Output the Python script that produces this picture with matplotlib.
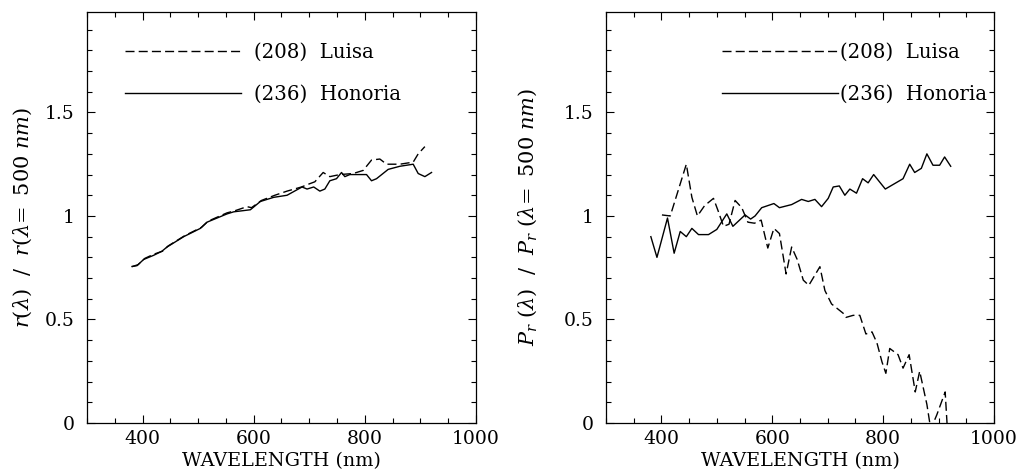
import matplotlib
matplotlib.use('Agg')
import matplotlib.pyplot as plt
from matplotlib.ticker import MultipleLocator, FuncFormatter

# relative reflectance r(lambda) / r(500 nm)
refl_wl_honoria = [381, 390, 402, 420, 435, 444, 474, 504, 516, 552, 564, 594, 612, 636, 660, 687,
                   696, 708, 719, 728, 737, 749, 758, 764, 773, 803, 812, 821, 842, 863, 887, 896,
                   908, 920]
refl_honoria = [0.756, 0.76, 0.79, 0.81, 0.83, 0.85, 0.90, 0.94, 0.97, 1.01, 1.02, 1.03, 1.07, 1.09,
                1.10, 1.14, 1.13, 1.14, 1.12, 1.13, 1.17, 1.18, 1.21, 1.19, 1.20, 1.20, 1.17, 1.18,
                1.225, 1.24, 1.25, 1.205, 1.19, 1.21]
refl_wl_luisa = [381, 392, 404, 420, 436, 446, 476, 506, 518, 552, 566, 588, 596, 614, 638, 660, 686,
                 700, 710, 725, 737, 755, 779, 797, 812, 827, 839, 863, 887, 896, 908]
refl_luisa = [0.755, 0.765, 0.795, 0.815, 0.83, 0.855, 0.905, 0.945, 0.975, 1.015, 1.025, 1.045,
              1.04, 1.075, 1.10, 1.12, 1.14, 1.155, 1.165, 1.21, 1.19, 1.20, 1.205, 1.22, 1.27,
              1.275, 1.25, 1.25, 1.26, 1.30, 1.335]

# relative polarization Pr(lambda) / Pr(500 nm)
pol_wl_honoria = [381, 392, 411, 423, 434, 445, 455, 467, 485, 500, 518, 529, 551, 561, 569, 581,
                  603, 613, 635, 653, 665, 677, 689, 701, 710, 721, 731, 740, 752, 763, 773, 783,
                  804, 836, 848, 857, 869, 879, 890, 902, 911, 922]
pol_honoria = [0.90, 0.80, 0.99, 0.82, 0.925, 0.90, 0.94, 0.91, 0.91, 0.935, 1.01, 0.95, 1.005,
               0.985, 1.00, 1.04, 1.06, 1.04, 1.055, 1.08, 1.07, 1.08, 1.045, 1.085, 1.14, 1.145,
               1.10, 1.13, 1.11, 1.18, 1.16, 1.20, 1.13, 1.18, 1.25, 1.21, 1.23, 1.30, 1.245,
               1.245, 1.285, 1.24]
pol_wl_luisa = [401, 416, 445, 455, 465, 478, 494, 503, 512, 522, 533, 545, 556, 568, 580, 592, 603,
                613, 625, 635, 645, 656, 666, 686, 695, 707, 728, 733, 746, 758, 769, 780, 789,
                798, 805, 812, 827, 836, 847, 858, 866, 879, 886, 897, 912, 916]
pol_luisa = [1.005, 1.00, 1.25, 1.09, 1.00, 1.05, 1.085, 1.02, 0.95, 0.96, 1.075, 1.04, 0.97,
             0.965, 0.98, 0.845, 0.94, 0.915, 0.72, 0.85, 0.79, 0.69, 0.665, 0.755, 0.64, 0.575,
             0.53, 0.51, 0.52, 0.52, 0.43, 0.44, 0.386, 0.295, 0.24, 0.36, 0.33, 0.265, 0.33,
             0.15, 0.25, 0.09, -0.03, 0.04, 0.15, -0.03]

names = ['(208)  Luisa', '(236)  Honoria']

plt.rcParams['font.family'] = 'DejaVu Serif'
plt.rcParams['mathtext.fontset'] = 'dejavuserif'
plt.rcParams['font.size'] = 13.5

fig = plt.figure(figsize=(10.21, 4.74), dpi=100)
ax1 = fig.add_axes([0.0852, 0.1076, 0.381, 0.867])
ax2 = fig.add_axes([0.5935, 0.1076, 0.380, 0.867])

dash = (0, (6.5, 3))
ax1.plot(refl_wl_luisa, refl_luisa, color='black', lw=1.0, linestyle=dash, label=names[0])
ax1.plot(refl_wl_honoria, refl_honoria, color='black', lw=1.0, label=names[1])
ax2.plot(pol_wl_luisa, pol_luisa, color='black', lw=1.0, linestyle=dash, label=names[0])
ax2.plot(pol_wl_honoria, pol_honoria, color='black', lw=1.0, label=names[1])

ax1.set_ylabel(r'$r(\lambda)\ \ /\ \ r(\lambda\!=\ 500\ nm)$', fontsize=15, labelpad=8)
ax2.set_ylabel(r'$P_r\ (\lambda)\ \ /\ \ P_r\ (\lambda\!=\ 500\ nm)$', fontsize=15, labelpad=18)

for ax in (ax1, ax2):
    ax.set_xlim(300, 1000)
    ax.set_ylim(0, 1.985)
    ax.xaxis.set_major_locator(MultipleLocator(200))
    ax.xaxis.set_minor_locator(MultipleLocator(50))
    ax.yaxis.set_major_locator(MultipleLocator(0.5))
    ax.yaxis.set_minor_locator(MultipleLocator(0.1))
    ax.yaxis.set_major_formatter(FuncFormatter(lambda v, p: '%g' % v))
    ax.tick_params(which='both', direction='in', top=True, right=True, width=0.8)
    ax.tick_params(which='major', length=6)
    ax.tick_params(which='minor', length=3.5)
    ax.tick_params(axis='x', which='major', pad=5)
    ax.tick_params(axis='y', which='major', pad=9)
    ax.set_xlabel('WAVELENGTH (nm)', fontsize=13.8, labelpad=3)
    for s in ax.spines.values():
        s.set_linewidth(0.9)

ax1.legend(loc='upper left', bbox_to_anchor=(0.098, 0.925), frameon=False, borderpad=0,
           borderaxespad=0, handlelength=5.9, handletextpad=0.65, labelspacing=1.15, fontsize=14.2)
ax2.legend(loc='upper left', bbox_to_anchor=(0.299, 0.925), frameon=False, borderpad=0,
           borderaxespad=0, handlelength=5.9, handletextpad=0.1, labelspacing=1.15, fontsize=14.2)

fig.savefig('out.png', dpi=100)
